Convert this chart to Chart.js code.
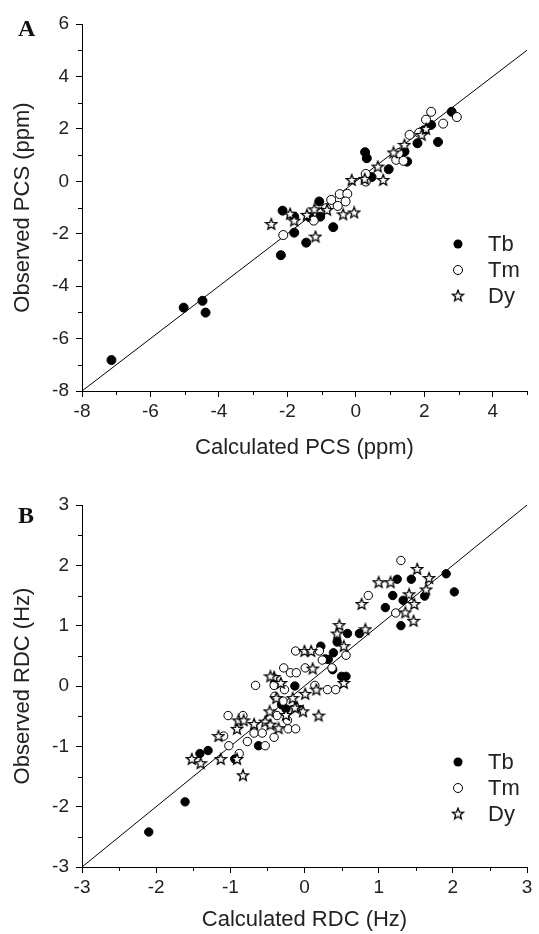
<!DOCTYPE html>
<html><head><meta charset="utf-8">
<script src="https://cdn.jsdelivr.net/npm/chart.js@4.4.1/dist/chart.umd.min.js"></script>
<style>
html,body{margin:0;padding:0;background:#fff;}
body{width:539px;height:934px;position:relative;overflow:hidden;}
.wrap{position:absolute;left:0;width:539px;}
canvas{display:block;}
.lbl{position:absolute;font-family:"Liberation Serif","Times New Roman",serif;font-weight:bold;font-size:24px;line-height:24px;color:#111;}
</style></head><body>
<div class="wrap" style="top:0;height:470px"><canvas id="ca" width="539" height="470"></canvas></div>
<div class="wrap" style="top:470px;height:464px"><canvas id="cb" width="539" height="464"></canvas></div>
<div class="lbl" style="left:18px;top:16px">A</div>
<div class="lbl" style="left:18px;top:503px">B</div>
<script>
// ---------- Panel A: PCS (ppm) ----------
const pcsTbCalc = [-7.14,-5.03,-4.48,-4.39,-2.14,-1.80,-1.45,-2.19,-1.80,-1.35,-1.07,-1.04,-0.66,0.27,0.32,0.46,0.96,1.50,1.80,1.42,2.00,2.20,2.40,2.80];
const pcsTbObs  = [-6.82,-4.82,-4.56,-5.01,-1.12,-1.96,-2.34,-2.82,-1.35,-1.37,-0.77,-1.35,-1.75,1.11,0.88,0.16,0.46,0.75,1.45,1.13,1.95,2.15,1.50,2.65];
const pcsTmCalc = [-2.12,-1.23,-0.72,-0.47,-0.25,-0.30,-0.53,-0.87,0.29,0.29,1.18,1.39,1.57,1.25,2.05,2.20,2.55,2.95,1.85];
const pcsTmObs  = [-2.05,-1.50,-0.71,-0.49,-0.48,-0.77,-0.94,-1.03,0.28,-0.01,0.82,0.78,1.77,1.07,2.35,2.65,2.20,2.45,1.85];
const pcsDyCalc = [-2.47,-1.92,-1.80,-1.43,-1.21,-1.18,-0.37,-0.05,-0.12,0.64,0.80,0.26,-0.84,1.10,1.42,1.92,2.05];
const pcsDyObs  = [-1.63,-1.24,-1.50,-1.28,-1.07,-2.11,-1.26,-1.19,0.05,0.56,0.05,0.09,-1.09,1.10,1.39,1.77,2.00];
const pcsXTicks = [-8,-6,-4,-2,0,2,4];
const pcsXMinor = [-7,-5,-3,-1,1,3,5];
const pcsYTicks = [-8,-6,-4,-2,0,2,4,6];
const pcsYMinor = [-7,-5,-3,-1,1,3,5];
const pcsRange = [-8,5];

// ---------- Panel B: RDC (Hz) ----------
const rdcTbCalc = [-2.10,-1.61,-1.41,-1.30,-0.94,-0.62,-0.31,-0.25,-0.13,0.22,0.32,0.39,0.44,0.50,0.56,0.58,0.74,0.38,0.28,1.09,1.19,1.25,1.30,1.33,1.44,1.62,1.91,2.02];
const rdcTbObs  = [-2.42,-1.92,-1.12,-1.07,-1.21,-0.99,-0.31,-0.38,0.00,0.66,0.44,0.55,0.73,0.16,0.16,0.87,0.87,0.27,0.45,1.30,1.50,1.77,1.00,1.42,1.77,1.49,1.86,1.56];
const rdcTmCalc = [-1.03,-0.83,-1.09,-1.02,-0.88,-0.77,-0.68,-0.57,-0.53,-0.41,-0.22,-0.12,-0.37,-0.23,-0.66,-0.28,-0.19,-0.11,0.01,-0.41,-0.27,0.14,0.31,0.42,0.56,0.37,0.24,-0.12,0.20,0.86,1.23,1.30,-0.40,-0.29];
const rdcTmObs  = [-0.49,-0.49,-0.83,-0.99,-1.12,-0.92,-0.78,-0.78,-0.99,-0.85,-0.71,-0.71,-0.49,-0.57,0.01,0.30,0.22,0.22,0.30,0.01,-0.06,0.01,-0.06,-0.06,0.51,0.30,0.43,0.58,0.58,1.50,1.21,2.08,-0.17,-0.25];
const rdcDyCalc = [-1.52,-1.40,-1.13,-1.16,-0.91,-0.89,-0.82,-0.83,-0.91,-0.68,-0.53,-0.46,-0.47,-0.35,-0.25,-0.10,-0.02,0.19,-0.41,-0.32,0.01,0.16,-0.38,-0.16,-0.13,0.53,0.00,0.09,0.11,0.47,0.44,0.53,0.82,0.77,1.00,1.16,1.41,1.48,1.36,1.47,1.52,1.68,1.64,-0.46];
const rdcDyObs  = [-1.21,-1.28,-1.21,-0.83,-0.71,-0.57,-0.57,-1.48,-1.21,-0.63,-0.59,-0.64,-0.42,-0.70,-0.48,-0.35,-0.42,-0.49,0.15,0.05,-0.13,-0.06,-0.20,-0.20,-0.36,0.05,0.58,0.58,0.29,1.01,0.87,0.66,0.94,1.36,1.72,1.72,1.52,1.36,1.22,1.08,1.94,1.79,1.60,0.16];
const rdcTicks = [-3,-2,-1,0,1,2,3];
const rdcMinor = [-2.5,-1.5,-0.5,0.5,1.5,2.5];
const rdcRange = [-3,3];

const seriesNames = ['Tb','Tm','Dy'];

const FONT = '"Liberation Sans", Arial, Helvetica, sans-serif';
const TXT = '#222';

function pts(xs, ys){ return xs.map((x,i)=>({x:x, y:ys[i]})); }

function makeStar(){
  const c = document.createElement('canvas');
  c.width = 14; c.height = 14;
  const g = c.getContext('2d');
  g.beginPath();
  for (let i=0;i<10;i++){
    const r = (i%2===0) ? 5.8 : 2.5;
    const a = -Math.PI/2 + i*Math.PI/5;
    const px = 7 + r*Math.cos(a), py = 7.4 + r*Math.sin(a);
    if (i===0) g.moveTo(px,py); else g.lineTo(px,py);
  }
  g.closePath();
  g.fillStyle = '#fff'; g.fill();
  g.lineWidth = 1.3; g.strokeStyle = '#000'; g.lineJoin = 'miter'; g.stroke();
  return c;
}
const starImg = makeStar();

const minorTicks = {
  id: 'minorTicks',
  afterDraw(chart, args, opts){
    const ctx = chart.ctx, a = chart.chartArea;
    const xs = chart.scales.x, ys = chart.scales.y;
    ctx.save();
    ctx.strokeStyle = '#000'; ctx.lineWidth = 1;
    ctx.beginPath();
    (opts.x||[]).forEach(v=>{ const p = Math.round(xs.getPixelForValue(v))+0.5; ctx.moveTo(p, a.bottom); ctx.lineTo(p, a.bottom+4); });
    (opts.y||[]).forEach(v=>{ const p = Math.round(ys.getPixelForValue(v))+0.5; ctx.moveTo(a.left, p); ctx.lineTo(a.left-4, p); });
    ctx.stroke();
    ctx.restore();
  }
};

const legendPlug = {
  id: 'customLegend',
  afterDraw(chart, args, opts){
    const ctx = chart.ctx;
    ctx.save();
    ctx.font = '22px ' + FONT;
    ctx.textBaseline = 'middle';
    ctx.textAlign = 'left';
    opts.names.forEach((n,i)=>{
      const y = opts.y0 + i*opts.dy;
      const x = opts.mx;
      if (i===0){ ctx.beginPath(); ctx.arc(x,y,opts.r,0,Math.PI*2); ctx.fillStyle='#000'; ctx.fill(); }
      else if (i===1){ ctx.beginPath(); ctx.arc(x,y,opts.r,0,Math.PI*2); ctx.fillStyle='#fff'; ctx.fill(); ctx.lineWidth=1; ctx.strokeStyle='#000'; ctx.stroke(); }
      else { ctx.drawImage(starImg, x-7, y-7.4); }
      ctx.fillStyle = TXT;
      ctx.fillText(n, opts.tx, y+1);
    });
    ctx.restore();
  }
};

function makeChart(id, cfg){
  const mk = (xs, ys, style, order, r) => ({
    data: pts(xs, ys),
    pointStyle: style === 'star' ? starImg : 'circle',
    pointRadius: r,
    pointHoverRadius: r,
    backgroundColor: style === 'filled' ? '#000' : '#fff',
    borderColor: '#000',
    borderWidth: 1,
    order: order
  });
  const axisBase = (ticks, min, max, title, isY) => ({
    type: 'linear', min: min, max: max,
    afterBuildTicks: s => { s.ticks = ticks.map(v=>({value:v})); },
    afterFit: s => { if (isY) s.width = 82; else s.height = cfg.xAxisH; },
    ticks: { autoSkip:false, color: TXT, font:{family:FONT, size:19}, padding: isY ? 7 : 3, callback: v => String(v) },
    grid: { drawOnChartArea:false, drawTicks:true, tickLength:6, tickColor:'#000', tickWidth:1 },
    border: { display:true, color:'#000', width:1 },
    title: { display:true, text:title, color:TXT, font:{family:FONT, size:22}, padding: isY ? {top:10,bottom:0} : {top:0,bottom:cfg.titlePadB} }
  });
  return new Chart(document.getElementById(id), {
    type: 'scatter',
    data: { datasets: [
      { type:'line', data: cfg.range.map(v=>({x:v,y:v})), showLine:true, borderColor:'#000', borderWidth:1, pointRadius:0, fill:false, order:10 },
      mk(cfg.tb[0], cfg.tb[1], 'filled', 3, cfg.r),
      mk(cfg.tm[0], cfg.tm[1], 'hollow', 2, cfg.r),
      mk(cfg.dy[0], cfg.dy[1], 'star', 1, cfg.r)
    ]},
    options: {
      responsive:false, animation:false, devicePixelRatio:1,
      layout: { padding: { top: cfg.padTop, right: 12, left: 0, bottom: 0 } },
      plugins: {
        legend: { display:false }, tooltip: { enabled:false },
        minorTicks: { x: cfg.xMinor, y: cfg.yMinor },
        customLegend: { names: seriesNames, mx: 458, tx: 488, y0: cfg.legY, dy: 26, r: 4.5 }
      },
      scales: {
        x: axisBase(cfg.xTicks, cfg.xMin, cfg.xMax, cfg.xTitle, false),
        y: axisBase(cfg.yTicks, cfg.yMin, cfg.yMax, cfg.yTitle, true)
      }
    },
    plugins: [minorTicks, legendPlug]
  });
}

makeChart('ca', {
  tb:[pcsTbCalc,pcsTbObs], tm:[pcsTmCalc,pcsTmObs], dy:[pcsDyCalc,pcsDyObs],
  range: pcsRange, xTicks: pcsXTicks, yTicks: pcsYTicks, xMinor: pcsXMinor, yMinor: pcsYMinor,
  xMin:-8, xMax:5, yMin:-8, yMax:6, r:4.5,
  xTitle:'Calculated PCS (ppm)', yTitle:'Observed PCS (ppm)',
  padTop:24, xAxisH:79, titlePadB:9, legY:244
});
makeChart('cb', {
  tb:[rdcTbCalc,rdcTbObs], tm:[rdcTmCalc,rdcTmObs], dy:[rdcDyCalc,rdcDyObs],
  range: rdcRange, xTicks: rdcTicks, yTicks: rdcTicks, xMinor: rdcMinor, yMinor: rdcMinor,
  xMin:-3, xMax:3, yMin:-3, yMax:3, r:4.2,
  xTitle:'Calculated RDC (Hz)', yTitle:'Observed RDC (Hz)',
  padTop:35, xAxisH:67, titlePadB:1, legY:292
});
</script>
</body></html>
